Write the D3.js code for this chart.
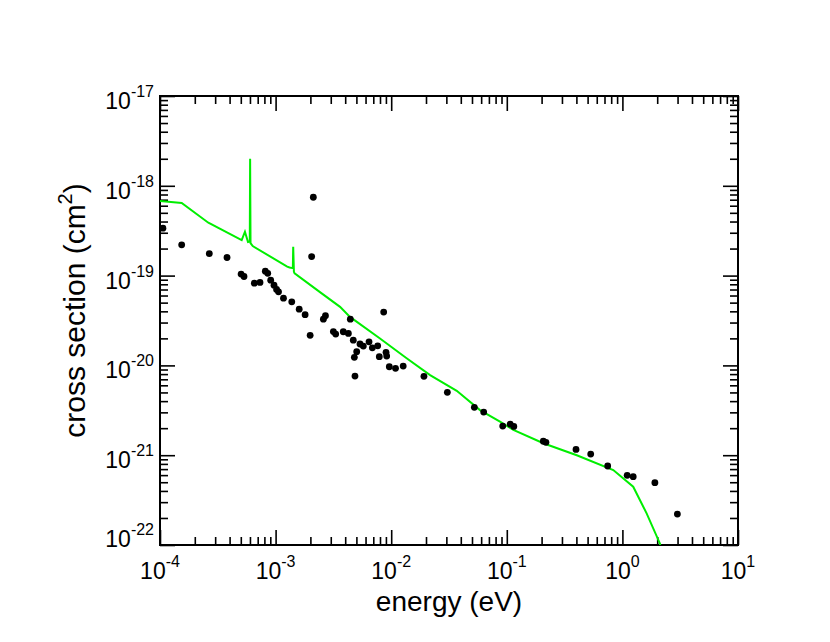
<!DOCTYPE html>
<html>
<head>
<meta charset="utf-8">
<script src="https://cdn.jsdelivr.net/npm/d3@7"></script>
<style>
  body { margin: 0; background: #fff; }
  text { font-family: "Liberation Sans", Arial, sans-serif; fill: #000; }
</style>
</head>
<body>
<div id="chart"></div>
<script>
// measured points
var energy = [1.06e-4, 1.54e-4, 2.67e-4, 3.80e-4, 5.03e-4, 5.33e-4, 6.55e-4, 7.33e-4, 8.15e-4, 8.55e-4,
    9.07e-4, 9.69e-4, 1.02e-3, 1.06e-3, 1.17e-3, 1.38e-3, 1.60e-3, 1.80e-3, 2.12e-3, 2.05e-3,
    1.99e-3, 2.59e-3, 2.70e-3, 3.16e-3, 3.31e-3, 3.85e-3, 4.26e-3, 4.43e-3, 4.70e-3, 5.03e-3,
    4.80e-3, 5.37e-3, 5.74e-3, 6.43e-3, 6.87e-3, 7.64e-3, 7.89e-3, 9.02e-3, 9.14e-3, 4.86e-3,
    8.61e-3, 9.63e-3, 1.09e-2, 1.27e-2, 1.92e-2, 3.06e-2, 5.24e-2, 6.31e-2, 9.22e-2, 0.107,
    0.115, 0.207, 0.218, 0.397, 0.532, 0.746, 1.10, 1.24, 1.91, 2.99];
var crossSection = [3.37e-19, 2.20e-19, 1.76e-19, 1.59e-19, 1.04e-19, 9.77e-20, 8.24e-20, 8.39e-20, 1.12e-19, 1.06e-19,
    8.89e-20, 7.83e-20, 7.01e-20, 6.59e-20, 5.61e-20, 5.10e-20, 4.23e-20, 3.67e-20, 7.46e-19, 1.63e-19,
    2.16e-20, 3.27e-20, 3.58e-20, 2.38e-20, 2.23e-20, 2.37e-20, 2.27e-20, 3.27e-20, 1.91e-20, 1.42e-20,
    1.23e-20, 1.73e-20, 1.64e-20, 1.83e-20, 1.57e-20, 1.65e-20, 1.25e-20, 1.40e-20, 1.27e-20, 7.60e-21,
    3.92e-20, 9.66e-21, 9.27e-21, 9.82e-21, 7.55e-21, 5.01e-21, 3.41e-21, 3.02e-21, 2.11e-21, 2.22e-21,
    2.09e-21, 1.43e-21, 1.39e-21, 1.16e-21, 1.03e-21, 7.58e-22, 5.97e-22, 5.76e-22, 4.94e-22, 2.21e-22];

// calculated curve (green)
var curveEnergy = [1.0e-4, 1.54e-4, 2.62e-4, 5.09e-4, 5.43e-4, 5.77e-4, 5.98e-4, 6.02e-4, 6.07e-4, 6.34e-4,
    1.26e-3, 1.32e-3, 1.41e-3, 1.42e-3, 1.44e-3, 1.46e-3, 2.42e-3, 3.61e-3, 4.40e-3, 8.0e-3,
    1.36e-2, 2.17e-2, 3.69e-2, 5.86e-2, 8.73e-2, 0.114, 0.207, 0.403, 0.834, 1.24, 1.62, 2.11, 2.2];
var curveCross = [6.79e-19, 6.45e-19, 3.88e-19, 2.48e-19, 3.08e-19, 2.37e-19, 2.40e-19, 2.0e-18, 2.30e-19, 2.13e-19,
    1.26e-19, 1.23e-19, 1.21e-19, 2.09e-19, 1.10e-19, 1.06e-19, 6.54e-20, 4.49e-20, 3.47e-20, 1.99e-20,
    1.20e-20, 7.80e-21, 5.21e-21, 3.18e-21, 2.36e-21, 1.91e-21, 1.36e-21, 1.00e-21, 6.84e-22, 4.46e-22, 2.25e-22, 1.04e-22, 8.0e-23];

var xDecades = [1e-4, 1e-3, 1e-2, 1e-1, 1, 10];
var xExponents = ["-4", "-3", "-2", "-1", "0", "1"];
var yDecades = [1e-22, 1e-21, 1e-20, 1e-19, 1e-18, 1e-17];
var yExponents = ["-22", "-21", "-20", "-19", "-18", "-17"];

var svgWidth = 830;
var svgHeight = 642;

var margin = {
    top: 96,
    right: 92,
    bottom: 97,
    left: 160
};

var width = svgWidth - margin.left - margin.right;
var height = svgHeight - margin.top - margin.bottom;

var svg = d3.select("#chart")
    .append("svg")
    .attr("width", svgWidth)
    .attr("height", svgHeight);

var chartGroup = svg.append("g")
    .attr("transform", `translate(${margin.left}, ${margin.top})`);

var xLogScale = d3.scaleLog().domain([1e-4, 10]).range([0, width]);
var yLogScale = d3.scaleLog().domain([1e-22, 1e-17]).range([height, 0]);

function isDecade(d) {
    var l = Math.log10(d);
    return Math.abs(l - Math.round(l)) < 1e-6;
}
var xMinor = xLogScale.ticks().filter(d => !isDecade(d));
var yMinor = yLogScale.ticks().filter(d => !isDecade(d));

function drawTicks(axis, translate, values, size) {
    var g = chartGroup.append("g")
        .attr("transform", translate)
        .call(axis.tickValues(values).tickSize(size).tickSizeOuter(0).tickFormat(""));
    g.select(".domain").remove();
    g.selectAll(".tick line").attr("stroke", "#000").attr("stroke-width", 1.6);
    return g;
}

// inward ticks on all four sides
drawTicks(d3.axisBottom(xLogScale), `translate(0, ${height})`, xDecades, -15);
drawTicks(d3.axisBottom(xLogScale), `translate(0, ${height})`, xMinor, -8);
drawTicks(d3.axisTop(xLogScale), "translate(0, 0)", xDecades, -15);
drawTicks(d3.axisTop(xLogScale), "translate(0, 0)", xMinor, -8);
drawTicks(d3.axisLeft(yLogScale), "translate(0, 0)", yDecades, -15);
drawTicks(d3.axisLeft(yLogScale), "translate(0, 0)", yMinor, -8);
drawTicks(d3.axisRight(yLogScale), `translate(${width}, 0)`, yDecades, -15);
drawTicks(d3.axisRight(yLogScale), `translate(${width}, 0)`, yMinor, -8);

chartGroup.append("rect")
    .attr("width", width)
    .attr("height", height)
    .attr("fill", "none")
    .attr("stroke", "#000")
    .attr("stroke-width", 2);

// tick labels: 10 with superscript exponent
xDecades.forEach(function (d, i) {
    var t = chartGroup.append("text")
        .attr("x", xLogScale(d))
        .attr("y", height + 34)
        .attr("text-anchor", "middle")
        .attr("font-size", "23px");
    t.append("tspan").text("10");
    t.append("tspan").attr("dy", -12).attr("font-size", "16px").text(xExponents[i]);
});

yDecades.forEach(function (d, i) {
    var shift = i === 0 ? 2 : 13;
    var t = chartGroup.append("text")
        .attr("x", -6)
        .attr("y", yLogScale(d) + shift)
        .attr("text-anchor", "end")
        .attr("font-size", "23px");
    t.append("tspan").text("10");
    t.append("tspan").attr("dy", -12).attr("font-size", "16px").text(yExponents[i]);
});

// axis titles
chartGroup.append("text")
    .attr("x", width / 2)
    .attr("y", height + 66)
    .attr("text-anchor", "middle")
    .attr("font-size", "28px")
    .text("energy (eV)");

var yTitle = chartGroup.append("text")
    .attr("transform", `translate(${85 - margin.left}, ${height / 2 - 10}) rotate(-90)`)
    .attr("text-anchor", "middle")
    .attr("font-size", "30px");
yTitle.append("tspan").text("cross section (cm");
yTitle.append("tspan").attr("dy", -13).attr("font-size", "20px").text("2");
yTitle.append("tspan").attr("dy", 13).text(")");

// curve clipped to frame
chartGroup.append("clipPath")
    .attr("id", "plotClip")
    .append("rect")
    .attr("width", width)
    .attr("height", height);

var curveData = curveEnergy.map((e, i) => ({ e: e, s: curveCross[i] }));
var line = d3.line()
    .x(d => xLogScale(d.e))
    .y(d => yLogScale(d.s));

chartGroup.append("path")
    .datum(curveData)
    .attr("clip-path", "url(#plotClip)")
    .attr("fill", "none")
    .attr("stroke", "#00ee00")
    .attr("stroke-width", 2)
    .attr("d", line);

var pointData = energy.map((e, i) => ({ e: e, s: crossSection[i] }));
chartGroup.selectAll("circle")
    .data(pointData)
    .enter()
    .append("circle")
    .attr("cx", d => xLogScale(d.e))
    .attr("cy", d => yLogScale(d.s))
    .attr("r", 3.4)
    .attr("fill", "#000");
</script>
</body>
</html>
